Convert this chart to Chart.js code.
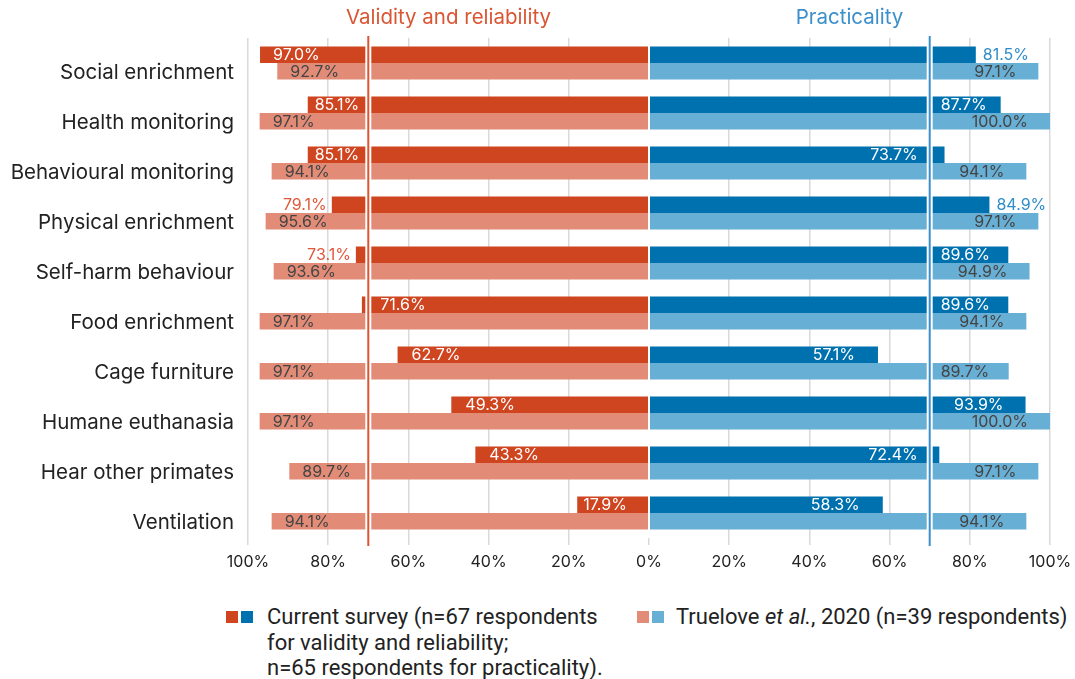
<!DOCTYPE html>
<html>
<head>
<meta charset="utf-8">
<script src="https://cdn.jsdelivr.net/npm/chart.js@4.4.1/dist/chart.umd.min.js"></script>
<style>
  body { margin: 0; background: #fff; }
  #wrap { position: relative; width: 1075px; height: 679px; }
  .sw { position: absolute; width: 12px; height: 12px; }
  .txt { position: absolute; font-family: Roboto, sans-serif; font-size: 22px; line-height: 25.5px; color: #222; white-space: nowrap; }
</style>
</head>
<body>
<div id="wrap">
  <canvas id="chart" width="1075" height="590"></canvas>
  <span class="sw" style="left:226px;top:611px;background:#CF4520"></span>
  <span class="sw" style="left:241px;top:611px;background:#0071AF"></span>
  <div class="txt" style="left:267px;top:604px">Current survey (n=67 respondents<br>for validity and reliability;<br>n=65 respondents for practicality).</div>
  <span class="sw" style="left:637px;top:611px;background:#E28C78"></span>
  <span class="sw" style="left:652px;top:611px;background:#68AFD5"></span>
  <div class="txt" style="left:676px;top:604px">Truelove <i>et al.</i>, 2020 (n=39 respondents)</div>
</div>
<script>
const categories = [
  "Social enrichment", "Health monitoring", "Behavioural monitoring", "Physical enrichment",
  "Self-harm behaviour", "Food enrichment", "Cage furniture", "Humane euthanasia",
  "Hear other primates", "Ventilation"
];
const validityCurrent = [97.0, 85.1, 85.1, 79.1, 73.1, 71.6, 62.7, 49.3, 43.3, 17.9];
const validityTruelove = [92.7, 97.1, 94.1, 95.6, 93.6, 97.1, 97.1, 97.1, 89.7, 94.1];
const practicalityCurrent = [81.5, 87.7, 73.7, 84.9, 89.6, 89.6, 57.1, 93.9, 72.4, 58.3];
const practicalityTruelove = [97.1, 100.0, 94.1, 97.1, 94.9, 94.1, 89.7, 100.0, 97.1, 94.1];
const xTicks = [-100, -80, -60, -40, -20, 0, 20, 40, 60, 80, 100];
const breakAt = 70;

const darkRed = "#CF4520", lightRed = "#E28C78";
const darkBlue = "#0071AF", lightBlue = "#68AFD5";
const lineRed = "#DA5533", lineBlue = "#3B8FCB";
const fam = "Inter";
const labelFont = "16px " + fam;

// the white gap at 70%, the two vertical lines, titles and value labels
const breakPlugin = {
  id: "breaks",
  afterDatasetsDraw(chart) {
    const { ctx, chartArea, scales: { x } } = chart;
    const h = chartArea.bottom - chartArea.top;
    const xl = x.getPixelForValue(-breakAt), xr = x.getPixelForValue(breakAt), x0 = x.getPixelForValue(0);
    ctx.save();
    ctx.fillStyle = "#fff";
    ctx.fillRect(xl - 3, chartArea.top, 6, h);
    ctx.fillRect(xr - 3, chartArea.top, 6, h);
    ctx.fillRect(x0 - 1, chartArea.top, 2, h);
    ctx.lineWidth = 2;
    ctx.strokeStyle = lineRed;
    ctx.beginPath(); ctx.moveTo(xl, 36); ctx.lineTo(xl, chartArea.bottom + 8); ctx.stroke();
    ctx.strokeStyle = lineBlue;
    ctx.beginPath(); ctx.moveTo(xr, 36); ctx.lineTo(xr, chartArea.bottom + 8); ctx.stroke();

    ctx.font = "20.5px " + fam;
    ctx.textAlign = "center";
    ctx.textBaseline = "middle";
    ctx.fillStyle = lineRed;
    ctx.fillText("Validity and reliability", (x.getPixelForValue(-100) + x0) / 2, 18);
    ctx.fillStyle = lineBlue;
    ctx.fillText("Practicality", (x.getPixelForValue(100) + x0) / 2, 18);

    ctx.font = labelFont;
    chart.data.datasets.forEach((ds, i) => {
      const meta = chart.getDatasetMeta(i);
      meta.data.forEach((bar, j) => {
        const v = Math.abs(ds.data[j]);
        const txt = v.toFixed(1) + "%";
        const w = ctx.measureText(txt).width;
        const end = bar.x;
        let tx, align = "left", color = ds.inColor;
        if (ds.side === "left") {
          if (v >= 85) { tx = Math.min(end + 13, xl - 9 - w); }
          else if (v > 72) { tx = end - 5; align = "right"; color = ds.outColor; }
          else if (v >= breakAt) { tx = xl + 12; }
          else { tx = end + Math.max(4, Math.min(14, x0 - end - w - 22)); }
        } else {
          align = "right";
          if (v >= 85) { tx = Math.max(end - 22, xr + 11 + w); }
          else if (v >= 75) { tx = end + 7; align = "left"; color = ds.outColor; }
          else if (v >= breakAt) { tx = xr - 12; }
          else { tx = end - 23; }
        }
        ctx.fillStyle = color;
        ctx.textAlign = align;
        ctx.fillText(txt, tx, bar.y + 0.5);
      });
    });
    ctx.restore();
  }
};

function draw() {
  new Chart(document.getElementById("chart"), {
    type: "bar",
    plugins: [breakPlugin],
    data: {
      labels: categories,
      datasets: [
        { data: validityCurrent.map(v => -v), stack: "cur", backgroundColor: darkRed, side: "left", inColor: "#fff", outColor: "#E0583A" },
        { data: practicalityCurrent, stack: "cur", backgroundColor: darkBlue, side: "right", inColor: "#fff", outColor: "#2F8CC8" },
        { data: validityTruelove.map(v => -v), stack: "tru", backgroundColor: lightRed, side: "left", inColor: "#444", outColor: "#444" },
        { data: practicalityTruelove, stack: "tru", backgroundColor: lightBlue, side: "right", inColor: "#444", outColor: "#444" }
      ]
    },
    options: {
      indexAxis: "y",
      responsive: false,
      animation: false,
      categoryPercentage: 0.66,
      barPercentage: 1.0,
      layout: { padding: { top: 38, right: 25, left: 0, bottom: 0 } },
      plugins: { legend: { display: false }, tooltip: { enabled: false } },
      scales: {
        x: {
          type: "linear",
          min: -100, max: 100,
          stacked: true,
          afterBuildTicks: s => { s.ticks = xTicks.map(v => ({ value: v })); },
          afterFit: s => { s.height = 52; s.paddingRight = 0; s.paddingLeft = 0; },
          grid: { color: "#d9d9d9", lineWidth: 1.5, tickLength: 7 },
          border: { display: false },
          ticks: {
            padding: 8,
            color: "#222",
            font: { family: fam, size: 16 },
            callback: v => Math.abs(v) + "%"
          }
        },
        y: {
          afterFit: s => { s.width = 248; },
          grid: { display: false },
          border: { display: false },
          ticks: {
            color: "#222",
            padding: 6,
            labelOffset: 10,
            font: { family: fam, size: 20.5 }
          }
        }
      }
    }
  });
}

Promise.all([
  document.fonts.load("16px " + fam),
  document.fonts.load("20.5px " + fam)
]).then(draw, draw);
</script>
</body>
</html>
